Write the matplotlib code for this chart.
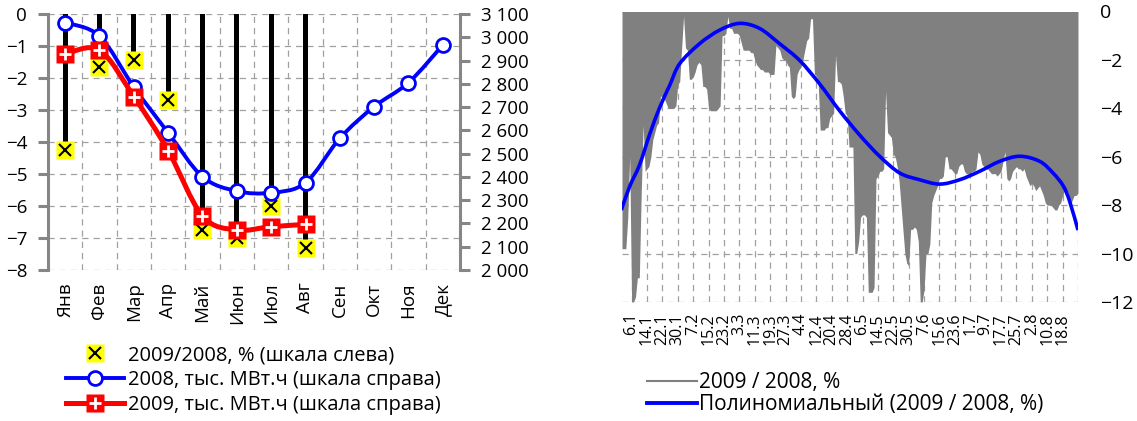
import numpy as np
import matplotlib
matplotlib.use("Agg")
import matplotlib.pyplot as plt
from matplotlib.path import Path
from matplotlib.patches import PathPatch
from matplotlib.lines import Line2D

plt.rcParams['font.family'] = ['Open Sans', 'DejaVu Sans']

# --- left chart data (monthly) ---
months = ['Янв', 'Фев', 'Мар', 'Апр', 'Май', 'Июн', 'Июл', 'Авг', 'Сен', 'Окт', 'Ноя', 'Дек']
ratio_pct = [-4.25, -1.65, -1.45, -2.7, -6.75, -7.0, -6.0, -7.3]
mwh_2008 = [3063, 3005, 2786, 2590, 2401, 2339, 2332, 2375, 2566, 2702, 2805, 2967]
mwh_2009 = [2928, 2945, 2745, 2513, 2232, 2172, 2186, 2196]

# --- right chart data (daily 2009/2008, %, from 1 Jan) ---
daily_pct = [
    -9.8, -9.8, -9.8, -8.5, -6.0, -12.0, -12.0, -11.8, -11.0, -11.0,
    -7.5, -4.7, -6.6, -6.5, -6.4, -6.0, -5.3, -5.0, -4.7, -4.6,
    -3.5, -3.5, -3.6, -3.8, -4.0, -4.0, -4.0, -4.0, -3.9, -3.0,
    -2.9, -1.5, -0.2, -1.5, -1.6, -2.8, -2.8, -2.7, -2.5, -2.2,
    -2.1, -2.2, -3.1, -3.1, -3.2, -4.0, -4.1, -4.1, -4.1, -4.1,
    -4.0, -3.9, -1.0, -1.0, -0.9, -0.2, -0.7, -0.7, -0.9, -0.9,
    -0.9, -1.0, -1.3, -1.6, -1.6, -1.6, -1.6, -1.7, -1.7, -2.0,
    -2.2, -2.3, -2.4, -2.4, -2.5, -2.5, -2.5, -2.6, -2.6, -2.6,
    -1.4, -1.5, -1.6, -1.9, -2.0, -2.0, -2.2, -2.3, -3.5, -3.6,
    -3.5, -2.6, -2.4, -2.3, -2.0, -1.6, -1.2, -1.1, -0.3, -0.3,
    -2.6, -2.6, -3.0, -4.9, -4.9, -4.9, -4.8, -4.8, -4.4, -4.3,
    -4.2, -1.8, -2.9, -2.9, -3.0, -3.5, -4.2, -4.3, -5.6, -5.6,
    -5.6, -10.0, -10.0, -9.5, -8.5, -8.4, -8.4, -8.5, -11.6, -11.6,
    -11.6, -11.4, -6.9, -6.8, -6.6, -6.6, -6.5, -3.3, -5.0, -5.1,
    -5.2, -5.9, -6.0, -6.4, -7.0, -8.0, -9.0, -10.0, -10.4, -10.5,
    -9.0, -9.0, -8.9, -9.0, -9.5, -12.0, -12.0, -11.5, -10.0, -10.0,
    -9.6, -7.9, -7.6, -7.4, -7.2, -6.9, -6.9, -6.8, -6.0, -6.0,
    -6.5, -6.5, -6.6, -6.7, -6.7, -6.4, -6.3, -6.3, -6.6, -6.7,
    -6.7, -6.7, -6.6, -6.6, -6.5, -5.8, -5.9, -6.3, -6.4, -6.5,
    -6.5, -6.6, -6.7, -6.7, -6.7, -6.8, -6.7, -6.6, -6.2, -5.8,
    -6.9, -7.0, -6.9, -6.6, -6.5, -6.4, -6.5, -6.5, -6.6, -6.5,
    -6.8, -7.0, -7.2, -7.1, -7.2, -7.4, -7.3, -7.2, -7.4, -7.6,
    -7.9, -8.0, -8.0, -8.0, -8.1, -8.2, -8.2, -8.0, -7.9, -7.6,
    -7.4, -7.4, -7.5, -8.0, -7.8, -7.6, -7.6, -7.5,
]
date_labels = ['6.1', '14.1', '22.1', '30.1', '7.2', '15.2', '23.2', '3.3', '11.3',
               '19.3', '27.3', '4.4', '12.4', '20.4', '28.4', '6.5', '14.5', '22.5',
               '30.5', '7.6', '15.6', '23.6', '1.7', '9.7', '17.7', '25.7', '2.8',
               '10.8', '18.8']

# polynomial trend line (day of year, %)
trend_day = [0.65, 4.96, 10.16, 15.36, 20.55, 25.75, 30.95, 41.34, 51.74, 62.13, 72.53,
             82.92, 93.32, 103.71, 114.1, 124.5, 134.9, 145.3, 155.7, 166.1, 176.5,
             186.9, 197.3, 207.7, 218.1, 225.0, 230.3, 233.7, 238.0]
trend_pct = [-8.20, -7.23, -6.33, -5.08, -3.97, -3.06, -2.16, -1.33, -0.77, -0.49, -0.70,
             -1.33, -2.02, -2.99, -4.10, -5.10, -5.98, -6.67, -6.95, -7.13, -6.95,
             -6.60, -6.19, -5.98, -6.19, -6.67, -7.20, -7.85, -9.03]

GRID = '#a0a0a0'
SPINE = '#868686'
W, H = 1137, 421


def smooth_path(xs, ys):
    # Excel-like smoothed line (Catmull-Rom as cubic Bezier)
    xs = np.asarray(xs, float)
    ys = np.asarray(ys, float)
    n = len(xs)
    verts = [(xs[0], ys[0])]
    codes = [Path.MOVETO]
    for i in range(n - 1):
        a = max(i - 1, 0)
        b = min(i + 2, n - 1)
        c1 = (xs[i] + (xs[i + 1] - xs[a]) / 6, ys[i] + (ys[i + 1] - ys[a]) / 6)
        c2 = (xs[i + 1] - (xs[b] - xs[i]) / 6, ys[i + 1] - (ys[b] - ys[i]) / 6)
        verts += [c1, c2, (xs[i + 1], ys[i + 1])]
        codes += [Path.CURVE4] * 3
    return Path(verts, codes)


fig = plt.figure(figsize=(W / 100, H / 100), dpi=100)

# ================= left chart =================
ax = fig.add_axes([48 / W, 1 - 270 / H, (460 - 48) / W, (270 - 14) / H])
xm = np.arange(len(months))
ax.set_xlim(-0.5, len(months) - 0.5)
ax.set_ylim(-8, 0)
ax.set_yticks(range(-8, 1))
ax.set_xticks(xm)
ax.set_xticklabels(months, rotation=90, fontsize=13.5)
ax.set_xticks(xm[:-1] + 0.5, minor=True)
ax.tick_params(axis='x', which='both', length=0, pad=9)
ax.tick_params(axis='y', length=7, width=2.2, color=SPINE, labelsize=13.5, pad=8)
ax.grid(True, axis='y', color=GRID, ls=(0, (5, 4)), lw=0.9)
ax.grid(True, axis='x', which='minor', color=GRID, ls=(0, (5, 4)), lw=0.9)
ax.set_axisbelow(True)
for s in ['top', 'right', 'bottom']:
    ax.spines[s].set_visible(False)
ax.spines['left'].set_color(SPINE)
ax.spines['left'].set_linewidth(2.2)

nr = len(ratio_pct)
ax.bar(xm[:nr], ratio_pct, width=0.15, color='black', zorder=2)
ax.plot(xm[:nr], ratio_pct, ls='none', marker='s', ms=13, mfc='#ffff00', mec='none', zorder=3)
ax.plot(xm[:nr], ratio_pct, ls='none', marker='x', ms=8.5, mew=1.5, color='black', zorder=4)

ax2 = ax.twinx()
ax2.set_ylim(2000, 3100)
ax2.set_yticks(range(2000, 3101, 100))
ax2.set_yticklabels([f'{v:,}'.replace(',', ' ') for v in range(2000, 3101, 100)])
ax2.tick_params(axis='y', length=7, width=2.2, color=SPINE, labelsize=13.5, pad=8)
for s in ['top', 'left', 'bottom']:
    ax2.spines[s].set_visible(False)
ax2.spines['right'].set_color(SPINE)
ax2.spines['right'].set_linewidth(2.2)

ax2.add_patch(PathPatch(smooth_path(xm, mwh_2008), fill=False, edgecolor='#0000ff', lw=2.8,
                        transform=ax2.transData, zorder=3))
ax2.plot(xm, mwh_2008, ls='none', marker='o', ms=10, mfc='white', mec='#0000ff', mew=2, zorder=4)
n9 = len(mwh_2009)
ax2.add_patch(PathPatch(smooth_path(xm[:n9], mwh_2009), fill=False, edgecolor='#ff0000', lw=3.6,
                        transform=ax2.transData, zorder=5))
ax2.plot(xm[:n9], mwh_2009, ls='none', marker='s', ms=12.5, mfc='#ff0000', mec='none', zorder=6)
ax2.plot(xm[:n9], mwh_2009, ls='none', marker='+', ms=9, mew=2, color='white', zorder=7)

h1 = (Line2D([], [], ls='none', marker='s', ms=13, mfc='#ffff00', mec='none'),
      Line2D([], [], ls='none', marker='x', ms=8.5, mew=1.5, color='black'))
h2 = Line2D([], [], color='#0000ff', lw=2.8, marker='o', ms=10, mfc='white', mec='#0000ff', mew=2)
h3 = (Line2D([], [], color='#ff0000', lw=3.6, marker='s', ms=12.5, mfc='#ff0000', mec='none'),
      Line2D([], [], ls='none', marker='+', ms=9, mew=2, color='white'))
fig.legend([h1, h2, h3],
           ['2009/2008, % (шкала слева)', '2008, тыс. МВт.ч (шкала справа)',
            '2009, тыс. МВт.ч (шкала справа)'],
           loc='upper left', bbox_to_anchor=(66 / W, 1 - 345 / H), frameon=False,
           fontsize=14.5, handlelength=2.9, handletextpad=0.2, labelspacing=0.25,
           borderpad=0, borderaxespad=0)

# ================= right chart =================
ax3 = fig.add_axes([622 / W, 1 - 302 / H, (1078 - 622) / W, (302 - 11.5) / H])
xd = np.arange(len(daily_pct))
ax3.fill_between(xd, 0, daily_pct, color='#808080', lw=0, zorder=2)
ax3.add_patch(PathPatch(smooth_path(np.array(trend_day) - 1, trend_pct), fill=False,
                        edgecolor='#0000ff', lw=2.6, transform=ax3.transData, zorder=3))
ax3.set_xlim(0, len(daily_pct) - 1)
ax3.set_ylim(-12, 0)
ax3.set_yticks(range(-12, 1, 2))
ax3.yaxis.tick_right()
ax3.tick_params(axis='y', length=0, labelsize=14, pad=16)
grid_pos = xd[5::8]
ax3.set_xticks(grid_pos[:len(date_labels)])
ax3.set_xticklabels(date_labels, rotation=90, fontsize=11.5)
ax3.set_xticks(grid_pos[len(date_labels):], minor=True)
ax3.tick_params(axis='x', which='both', length=0, pad=8)
ax3.grid(True, axis='y', color=GRID, ls=(0, (5, 4)), lw=0.9)
ax3.grid(True, axis='x', which='both', color=GRID, ls=(0, (5, 4)), lw=0.9)
ax3.set_axisbelow(True)
for s in ax3.spines.values():
    s.set_visible(False)

fig.legend([Line2D([], [], color='#808080', lw=1.5), Line2D([], [], color='#0000ff', lw=2.8)],
           ['2009 / 2008, %', 'Полиномиальный (2009 / 2008, %)'],
           loc='upper left', bbox_to_anchor=(647 / W, 1 - 372 / H), frameon=False,
           fontsize=15, handlelength=2.4, handletextpad=0.1, labelspacing=0.05,
           borderpad=0, borderaxespad=0)

fig.savefig('out.png', dpi=100)
